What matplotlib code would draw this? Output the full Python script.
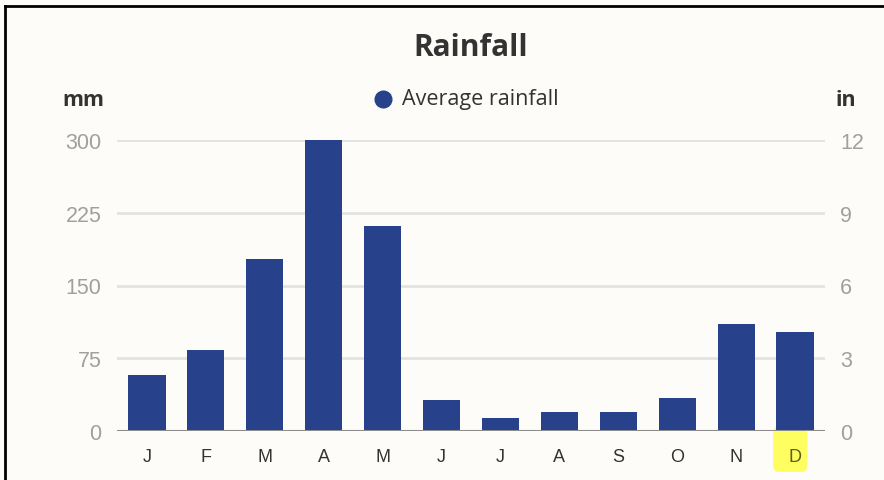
import matplotlib
matplotlib.use('Agg')
import matplotlib.pyplot as plt
from matplotlib.lines import Line2D
from matplotlib.patches import FancyBboxPatch
from matplotlib.transforms import blended_transform_factory

# 월별 평균 강수량 (mm)
months = ['J', 'F', 'M', 'A', 'M', 'J', 'J', 'A', 'S', 'O', 'N', 'D']
rain_mm = [58, 83, 177, 300, 211, 32, 13, 20, 20, 34, 110, 102]
mm_ticks = [0, 75, 150, 225, 300]
in_ticks = [0, 3, 6, 9, 12]
highlight = 11  # 강조할 달 (D)

bg = '#fdfcf8'
bar_color = '#27428a'
tick_gray = '#a0a0a0'
text_dark = '#333333'

fig = plt.figure(figsize=(8.84, 4.81), dpi=100, facecolor=bg)
ax = fig.add_axes([117 / 884, 1 - 432 / 481, (825 - 117) / 884, (432 - 141) / 481])
ax.set_facecolor(bg)

xs = list(range(len(months)))
ax.bar(xs, rain_mm, width=0.63, color=bar_color, zorder=3)
ax.set_xlim(-0.51, 11.51)
ax.set_ylim(0, 300)
ax.set_yticks(mm_ticks)
ax.set_xticks(xs)
ax.set_xticklabels(months, fontfamily='Liberation Sans', fontsize=13, color=text_dark)
ax.tick_params(axis='x', length=0, pad=12)
ax.tick_params(axis='y', length=0, pad=11, labelsize=15.5, labelcolor=tick_gray)
for lab in ax.get_yticklabels():
    lab.set_fontfamily('Liberation Sans')
ax.grid(axis='y', color='#e3e3e3', linewidth=2, zorder=0)
for s in ax.spines.values():
    s.set_visible(False)
ax.axhline(0, color='#8c8c8c', linewidth=2.2, zorder=4)

# 12월 라벨 강조 (노란 형광펜) - 라벨 뒤에 그림 (axis zorder 1.5 보다 아래)
ax.get_xticklabels()[highlight].set_color('#5e5e1a')
tr = blended_transform_factory(ax.transData, ax.transAxes)
box = FancyBboxPatch((highlight - 0.08 - 0.26, -0.13), 0.52, 0.135,
                     boxstyle='round,pad=0.03,rounding_size=0.08', mutation_aspect=0.35,
                     transform=tr, facecolor='#ffff3a', edgecolor='none', alpha=0.8,
                     zorder=1.2, clip_on=False)
ax.add_patch(box)

ax2 = ax.twinx()
ax2.set_ylim(0, 12)
ax2.set_yticks(in_ticks)
ax2.tick_params(axis='y', length=0, pad=11, labelsize=15.5, labelcolor=tick_gray)
for lab in ax2.get_yticklabels():
    lab.set_fontfamily('Liberation Sans')
for s in ax2.spines.values():
    s.set_visible(False)

fig.text(471 / 884, 1 - 48 / 481, 'Rainfall', ha='center', va='center', fontsize=21.5,
         fontweight='bold', fontfamily='Open Sans', color=text_dark)
fig.text(83 / 884, 1 - 100 / 481, 'mm', ha='center', va='center', fontsize=15.5,
         fontweight='bold', fontfamily='Open Sans', color=text_dark)
fig.text(846 / 884, 1 - 100 / 481, 'in', ha='center', va='center', fontsize=15.5,
         fontweight='bold', fontfamily='Open Sans', color=text_dark)
fig.add_artist(Line2D([383 / 884], [1 - 100 / 481], marker='o', markersize=12,
                      color=bar_color, linestyle='none'))
fig.text(402 / 884, 1 - 100 / 481, 'Average rainfall', ha='left', va='center', fontsize=15.5,
         fontfamily='Open Sans', color=text_dark)

# 스크린샷 테두리 (왼쪽, 위)
fig.add_artist(Line2D([5 / 884, 5 / 884], [0, 1 - 7 / 481], color='black', linewidth=2))
fig.add_artist(Line2D([5 / 884, 1], [1 - 7 / 481, 1 - 7 / 481], color='black', linewidth=2))

fig.savefig('out.png', dpi=100, facecolor=bg)
